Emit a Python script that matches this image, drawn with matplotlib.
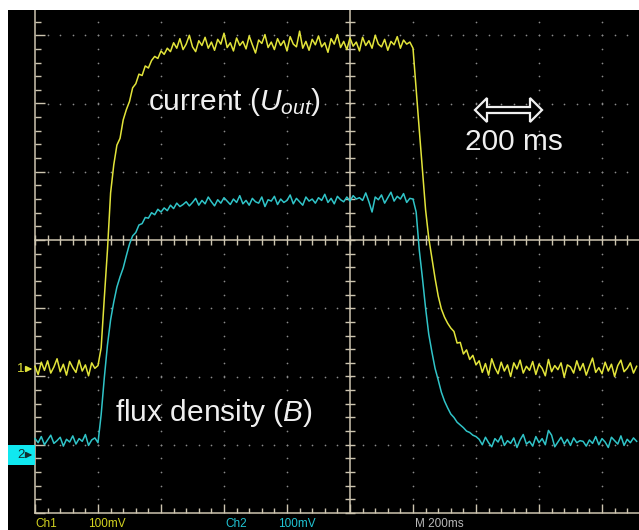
import numpy as np
import matplotlib.pyplot as plt
from matplotlib.collections import LineCollection
from matplotlib.patches import Polygon, Rectangle

plt.rcParams['font.family'] = ['Liberation Sans', 'DejaVu Sans']
plt.rcParams['mathtext.fontset'] = 'custom'
plt.rcParams['mathtext.rm'] = 'Liberation Sans'
plt.rcParams['mathtext.it'] = 'Liberation Sans:italic'

# scope settings
ms_per_div = 200
mv_per_div = 100
dt = 10  # ms per sample

# channel 1: current (U_out), mV above ground marker
ch1 = [4, -8, 10, -2, 12, -6, 3, 15, -4, 7, -9, 11, 2, -5, 13, -3, 6, -10, 9, 1, 5,
       31, 104, 174, 258, 299, 328, 338, 365, 380, 392, 412, 418, 432, 430, 444, 441,
       452, 458, 455, 466, 461, 470, 465,
       478, 470, 484, 468, 476, 489, 472, 465, 481, 474,
       486, 470, 479, 467, 483, 476, 492, 471, 478, 466,
       485, 474, 480, 469, 488, 475, 463, 482, 477, 490,
       471, 479, 468, 484, 474, 481, 466, 487, 476, 472,
       495, 470, 480, 467, 483, 475, 488, 472, 478, 464,
       484, 476, 490, 471, 480, 468, 485, 473, 479, 466,
       486, 474, 481, 470, 489, 476, 472, 483, 467, 480,
       475, 487, 470, 482, 476, 479,
       470, 409, 350, 292, 233, 192, 163, 133, 107, 88, 76, 67, 60, 55, 38, 39,
       22, 28, 14, 20, 6,
       12, -5, 8, -9, 15, 2, -7, 10, -3, 6,
       -11, 9, 0, 13, -6, 4, -2, 11, -8, 7,
       1, -10, 14, -4, 5, -1, 9, -12, 6, 3,
       -6, 12, -2, 8, -9, 4, 16, -5, 2, -7,
       10, -3, 7, -11, 5, 13, -4, 1, 9, -6, 4]

# channel 2: flux density (B), mV above ground marker
ch2 = [24, 18, 27, 15, 22, 29, 17, 21, 26, 13, 23, 19, 28, 16, 24, 20, 30, 14, 22, 25, 18,
       59, 113, 161, 198, 224, 246, 261, 274, 292, 309, 321, 326, 337, 339, 348, 347,
       355, 352, 360, 356,
       362, 358, 366, 361, 369, 364, 367, 371, 365,
       370, 376, 366, 373, 368, 378, 371, 365, 374, 369,
       377, 372, 367, 375, 370, 380, 368, 373, 366, 376,
       371, 369, 378, 364, 374, 372, 379, 367, 375, 370,
       373, 381, 368, 376, 371, 366, 378, 372, 375, 369,
       377, 373, 382, 370, 376, 368, 379, 374, 371, 378,
       372, 380, 375, 377, 373, 384, 371, 356, 378, 374,
       381, 369, 377, 385, 372, 379, 375, 383, 370, 376,
       375, 356, 300, 259, 215, 177, 151, 127, 110, 92, 79, 69, 60, 55, 48, 44,
       40, 35, 33, 29, 27,
       23, 15, 26, 18, 12, 24, 19, 28, 14, 21,
       17, 25, 11, 22, 30, 16, 20, 13, 27, 18,
       24, 15, 36, 29, 12, 19, 26, 16, 23, 14,
       25, 18, 21, 20, 13, 22, 17, 27, 15, 24,
       19, 11, 26, 21, 16, 28, 14, 23, 18, 25, 20]

t = np.arange(len(ch1)) * dt
ch1_ground = -1.89   # divisions from screen centre
ch2_ground = -3.15

yellow = '#e2e43a'
cyan = '#30c4c8'
grat = '#cdc5b0'

fig = plt.figure(figsize=(6.39, 5.30), dpi=100, facecolor='white')
ax = fig.add_axes([8 / 639, 0, 631 / 639, 520 / 530])
ax.set_facecolor('black')
x_left, x_right = -27 / 63, 604 / 63
y_bot, y_top = -290 / 68.25, 230 / 68.25
ax.set_xlim(x_left, x_right)
ax.set_ylim(y_bot, y_top)
ax.set_xticks([])
ax.set_yticks([])
for s in ax.spines.values():
    s.set_visible(False)
px, py = 1 / 63, 1 / 68.25

# dotted grid
dots_x, dots_y = [], []
for row in [-3, -2, -1, 1, 2, 3]:
    for xx in np.arange(0.2, x_right, 0.2):
        dots_x.append(xx)
        dots_y.append(row)
for col in [1, 2, 3, 4, 6, 7, 8, 9]:
    for yy in np.arange(-3.8, y_top, 0.2):
        dots_x.append(col)
        dots_y.append(yy)
ax.scatter(dots_x, dots_y, s=1.5, color='#8a8a8a', linewidths=0, zorder=1)

# graticule lines
lw = 1.1
ax.plot([0, 0], [-4, y_top], color=grat, lw=lw, zorder=2)
ax.plot([0, x_right], [-4, -4], color=grat, lw=lw, zorder=2)
ax.plot([0, x_right], [0, 0], color=grat, lw=lw, zorder=2)
ax.plot([5, 5], [-4, y_top], color=grat, lw=lw, zorder=2)

segs = []
for i, xx in enumerate(np.arange(0, x_right, 0.2)):
    major = i % 5 == 0
    segs.append([(xx, -5 * py), (xx, 5 * py)])
    segs.append([(xx, -4), (xx, -4 + (9 if major else 5) * py)])
for i, yy in enumerate(np.arange(-4, y_top, 0.2)):
    major = i % 5 == 0
    segs.append([(0, yy), ((10 if major else 6) * px, yy)])
    segs.append([(5 - 5 * px, yy), (5 + 5 * px, yy)])
ax.add_collection(LineCollection(segs, colors=grat, linewidths=1.0, zorder=2))

# traces
ax.plot(t / ms_per_div, ch1_ground + np.array(ch1) / mv_per_div, color=yellow, lw=1.1, zorder=3)
ax.plot(t / ms_per_div, ch2_ground + np.array(ch2) / mv_per_div, color=cyan, lw=1.1, zorder=3)

# channel ground markers
ax.text(-14 * px, ch1_ground, '1', color=yellow, fontsize=9.5, ha='center', va='center')
ax.annotate('', xy=(0, ch1_ground), xytext=(-9 * px, ch1_ground),
            arrowprops=dict(arrowstyle='-|>', color=yellow, lw=1.3, mutation_scale=8))
ax.add_patch(Rectangle((x_left, ch2_ground - 10 * py), -x_left, 20 * py,
                       facecolor='#10e8f0', edgecolor='none', zorder=4))
ax.text(-14 * px, ch2_ground, '2', color='#103030', fontsize=9.5, ha='center', va='center', zorder=5)
ax.annotate('', xy=(0, ch2_ground), xytext=(-9 * px, ch2_ground), zorder=5,
            arrowprops=dict(arrowstyle='-|>', color='#103030', lw=1.3, mutation_scale=8))

# labels
ax.text(113 * px, 138 * py, 'current ($U_{out}$)', color='#f0f0f0', fontsize=21.5,
        ha='left', va='center', zorder=6)
ax.text(80 * px, -173 * py, 'flux density ($B$)', color='#f0f0f0', fontsize=21.5,
        ha='left', va='center', zorder=6)
ax.text(430 * px, 98 * py, '200 ms', color='#f0f0f0', fontsize=21.5,
        ha='left', va='center', zorder=6)

# hollow double arrow showing one division (200 ms)
xa, xb, yc = 440 * px, 507 * px, 130 * py
hl, hh, sh = 12 * px, 12 * py, 3 * py
arrow = [(xa, yc), (xa + hl, yc + hh), (xa + hl, yc + sh), (xb - hl, yc + sh),
         (xb - hl, yc + hh), (xb, yc), (xb - hl, yc - hh), (xb - hl, yc - sh),
         (xa + hl, yc - sh), (xa + hl, yc - hh)]
ax.add_patch(Polygon(arrow, closed=True, facecolor='black', edgecolor='#f0f0f0', lw=1.6, zorder=6))

# status line
ys = -284 * py
ax.text(0, ys, 'Ch1', color='#d4d420', fontsize=8.5, ha='left', va='center')
ax.text(53 * px, ys, '100mV', color='#d4d420', fontsize=8.5, ha='left', va='center')
ax.text(190 * px, ys, 'Ch2', color='#20c4d4', fontsize=8.5, ha='left', va='center')
ax.text(243 * px, ys, '100mV', color='#20c4d4', fontsize=8.5, ha='left', va='center')
ax.text(380 * px, ys, 'M 200ms', color='#b8b8b8', fontsize=8.5, ha='left', va='center')

fig.savefig('out.png', dpi=100, facecolor='white')
